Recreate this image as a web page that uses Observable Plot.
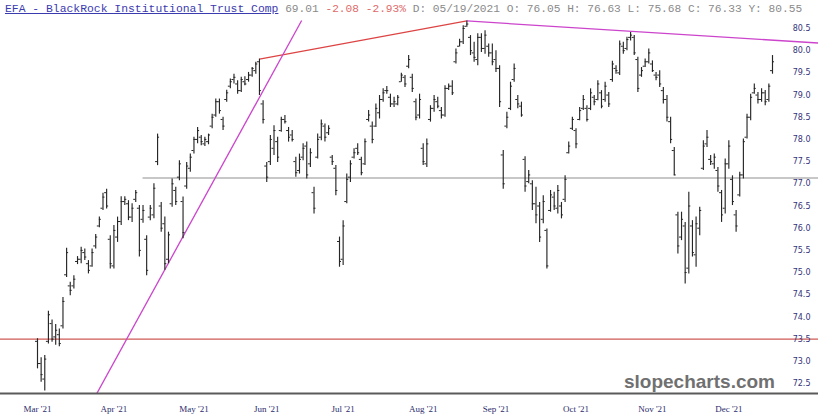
<!DOCTYPE html>
<html>
<head>
<meta charset="utf-8">
<script src="https://cdn.jsdelivr.net/npm/d3@7"></script>
<script src="https://cdn.jsdelivr.net/npm/@observablehq/plot@0.6"></script>
<style>
  html, body { margin: 0; padding: 0; background: #fff; }
  #wrap { position: relative; width: 818px; height: 419px; overflow: hidden; }
  #title { height: 18px; line-height: 18px; font-family: "Liberation Mono", "DejaVu Sans Mono", monospace; font-size: 11.2px; white-space: pre; padding-left: 5px; color: #8a8a8a; }
  #title .name { color: #3b3bb0; text-decoration: underline; font-size: 11.4px; }
  #title .chg { color: #e06a6a; }
  #wm { position: absolute; right: 43px; top: 371px; font-family: "Liberation Sans", Arial, sans-serif; font-weight: bold; font-size: 19px; color: #707070; }
</style>
</head>
<body>
<div id="wrap">
  <div id="title"><span class="name">EFA - BlackRock Institutional Trust Comp</span> 69.01 <span class="chg">-2.08 -2.93%</span> D: 05/19/2021 O: 76.05 H: 76.63 L: 75.68 C: 76.33 Y: 80.55</div>
  <div id="chart"></div>
  <div id="wm">slopecharts.com</div>
</div>
<script>
// ---- Data ----
const highs = [
73.51,73.08,73.13,74.13,73.93,73.83,73.73,74.44,75.55,74.78,74.93,75.36,75.57,75.53,75.27,75.53,75.86,76.25,76.79,76.88,
75.83,76.06,76.25,76.71,76.71,76.62,76.55,76.85,76.51,76.51,75.83,76.51,77.00,78.12,76.58,76.25,75.91,77.11,76.92,77.52,
76.70,77.48,77.67,78.05,78.27,78.09,78.05,78.12,78.57,78.91,78.91,78.50,79.11,79.36,79.47,79.32,79.40,79.41,79.51,79.62,
79.74,79.81,78.87,77.48,78.09,78.31,78.05,78.50,78.54,78.27,78.20,77.60,77.67,77.90,77.94,77.79,76.92,78.12,78.44,78.35,
78.31,77.64,77.41,75.80,76.17,77.22,77.52,77.79,77.90,77.60,78.01,78.65,78.39,78.80,78.99,79.14,79.19,79.02,78.95,78.99,
79.49,79.44,79.89,79.47,78.91,79.02,77.90,78.01,78.76,78.99,78.95,78.72,79.21,79.25,79.32,80.04,80.26,80.56,80.67,80.34,
80.19,80.38,80.38,80.45,80.15,80.15,80.00,79.66,77.75,78.61,79.29,79.70,78.99,78.84,77.61,77.30,77.07,76.92,76.58,76.73,
75.98,76.85,76.81,76.96,76.58,77.18,77.94,78.50,78.24,78.72,78.99,78.76,79.14,78.99,79.32,79.10,79.29,79.06,79.76,79.66,
80.22,80.19,80.30,80.41,80.34,79.85,79.62,79.81,80.04,79.77,79.51,79.55,79.17,78.99,78.50,77.82,76.36,76.36,76.13,76.81,
76.17,76.25,76.47,77.97,78.20,77.64,77.67,77.37,76.85,77.56,77.97,77.18,76.40,77.26,78.01,78.57,79.02,79.25,79.06,79.14,
79.10,79.25,79.89];
const lows = [
72.83,72.53,72.33,73.39,73.43,73.36,73.33,73.73,74.89,74.48,74.63,75.18,75.20,75.27,74.97,75.12,75.53,76.01,76.40,76.43,
75.08,75.08,75.68,76.06,76.51,76.17,76.13,76.58,75.35,76.11,74.93,76.17,76.21,77.41,75.91,75.05,75.20,76.47,76.51,77.07,
75.76,76.88,77.26,77.67,77.90,77.86,77.84,77.88,78.24,78.50,78.57,78.20,78.84,79.14,79.25,79.02,79.06,79.21,79.29,79.40,
79.47,78.99,78.35,77.03,77.41,77.64,77.48,78.16,78.35,77.94,77.94,77.15,77.22,77.52,77.11,77.37,76.32,77.56,77.97,77.94,
78.09,77.41,76.73,75.12,75.16,76.55,77.03,77.56,77.64,77.18,77.41,78.39,77.90,78.27,78.46,78.84,79.02,78.72,78.72,78.76,
79.29,79.17,79.59,79.06,78.42,78.46,77.41,77.37,78.39,78.61,78.69,78.46,78.50,79.10,78.99,79.70,80.08,80.14,80.53,79.89,
79.74,79.66,79.96,79.92,79.85,79.66,79.51,78.72,76.88,78.24,78.65,79.29,78.69,78.50,76.81,77.00,76.40,76.10,75.68,76.10,
75.08,76.36,76.40,76.32,76.21,76.58,77.67,78.20,77.79,78.42,78.65,78.39,78.65,78.76,78.87,78.69,78.84,78.72,79.29,79.47,
79.44,79.92,80.00,80.22,79.89,79.06,79.40,79.62,79.70,79.51,79.32,79.17,78.80,78.39,77.90,77.18,75.42,75.72,74.74,74.97,
75.35,75.12,75.83,77.30,77.82,77.41,77.33,76.81,76.13,76.32,77.33,76.51,75.91,76.70,77.11,78.01,78.42,79.02,78.80,78.84,
78.76,78.84,79.47];
const opens = [
73.45,72.95,72.60,73.45,73.85,73.55,73.60,73.80,74.95,74.70,74.70,75.25,75.30,75.45,75.20,75.15,75.60,76.05,76.45,76.80,
75.75,75.15,75.80,76.15,76.60,76.55,76.25,76.65,76.45,76.20,75.75,76.25,76.30,77.50,76.50,76.10,75.30,76.55,76.85,77.15,
76.60,76.95,77.35,77.75,78.00,78.05,77.90,77.95,78.30,78.55,78.85,78.45,78.90,79.20,79.35,79.25,79.10,79.30,79.35,79.45,
79.55,79.75,78.80,77.40,77.50,77.80,77.95,78.20,78.45,78.20,78.10,77.50,77.30,77.60,77.85,77.45,76.80,77.60,78.05,78.30,
78.15,77.60,77.35,75.70,75.30,76.60,77.15,77.60,77.80,77.55,77.45,78.45,78.30,78.30,78.60,78.90,79.10,78.95,78.80,78.80,
79.30,79.40,79.65,79.40,78.85,78.55,77.80,77.45,78.45,78.70,78.85,78.65,78.55,79.15,79.20,79.75,80.10,80.20,80.55,80.30,
79.95,79.80,80.30,80.05,80.10,79.95,79.80,79.60,77.65,78.30,78.70,79.35,78.90,78.75,77.55,77.05,77.00,76.55,76.50,76.20,
75.95,76.40,76.70,76.45,76.50,76.65,77.70,78.25,78.20,78.45,78.70,78.70,78.70,78.95,78.90,79.05,78.90,79.00,79.35,79.60,
79.50,80.10,80.05,80.30,80.30,79.80,79.45,79.65,79.75,79.70,79.45,79.45,79.10,78.90,78.40,77.75,76.30,75.80,76.05,75.10,
76.05,75.40,76.00,77.35,77.90,77.55,77.45,77.30,76.80,76.45,77.45,77.10,76.30,76.75,77.20,78.05,78.50,79.05,79.00,78.90,
79.05,78.90,79.55];
const closes = [
72.95,72.70,73.05,74.05,73.50,73.70,73.40,74.35,75.45,74.60,74.85,75.30,75.50,75.35,75.05,75.45,75.80,76.20,76.70,76.50,
75.20,75.95,76.15,76.60,76.65,76.25,76.45,76.80,75.50,76.40,75.05,76.45,76.90,78.05,76.00,75.20,75.85,77.00,76.60,77.45,
75.90,77.40,77.60,78.00,78.20,77.95,78.00,78.10,78.50,78.85,78.65,78.30,79.05,79.30,79.40,79.10,79.35,79.25,79.45,79.60,
79.70,79.10,78.45,77.15,78.00,78.20,77.60,78.45,78.40,78.05,78.00,77.25,77.55,77.80,77.20,77.70,76.45,78.00,78.35,78.05,
78.25,77.50,76.85,75.25,76.05,77.10,77.45,77.70,77.70,77.25,77.95,78.55,78.00,78.70,78.90,79.05,79.10,78.80,78.85,78.95,
79.45,79.25,79.80,79.15,78.50,78.90,77.50,77.90,78.70,78.90,78.75,78.55,79.15,79.20,79.05,79.95,80.20,80.50,80.60,80.00,
79.85,80.30,80.05,80.35,79.95,79.75,79.60,78.85,77.00,78.50,79.20,79.60,78.80,78.55,76.95,77.20,76.55,76.30,75.80,76.60,
75.15,76.75,76.50,76.85,76.30,77.10,77.85,78.45,77.90,78.65,78.90,78.45,79.05,78.85,79.25,78.75,79.20,78.80,79.70,79.55,
80.15,80.00,80.25,80.35,79.95,79.15,79.55,79.75,79.95,79.55,79.40,79.25,78.90,78.50,78.00,77.20,75.60,76.20,75.00,76.50,
75.45,76.10,76.40,77.85,78.05,77.50,77.60,76.95,76.30,77.45,77.85,76.60,76.05,77.20,77.95,78.50,78.95,79.15,78.90,79.05,
78.85,79.20,79.75];

const monthTicks = [0, 21, 43, 63, 84, 106, 126, 148, 169, 190];
const monthLabels = ["Mar '21","Apr '21","May '21","Jun '21","Jul '21","Aug '21","Sep '21","Oct '21","Nov '21","Dec '21"];
const priceTicks = [72.5,73.0,73.5,74.0,74.5,75.0,75.5,76.0,76.5,77.0,77.5,78.0,78.5,79.0,79.5,80.0,80.5];

// horizontal levels and trend lines (bar index, price)
const redLevel = [73.5];
const grayLevel = [{price: 77.13, from: 29, to: 215}];
const redTrend = [{i1: 61, p1: 79.81, i2: 118, p2: 80.67}];
const magentaTrends = [
  {i1: 16.0, p1: 72.23, i2: 72.6, p2: 80.68},
  {i1: 118, p1: 80.67, i2: 215, p2: 80.17}
];

// ---- Build table ----
const bars = highs.map((h, i) => ({i, open: opens[i], high: h, low: lows[i], close: closes[i]}));

const W = 818, H = 401;
const n = bars.length;
const step = 735 / (n - 1);
const xDomain = [-37 / step, (W - 37) / step];
const yDomain = [72.275, 80.725];

const chart = Plot.plot({
  width: W,
  height: H,
  marginLeft: 0,
  marginRight: 0,
  marginTop: 0,
  marginBottom: 26,
  style: {background: "transparent", overflow: "visible"},
  x: {type: "linear", domain: xDomain, axis: null},
  y: {domain: yDomain, axis: null},
  marks: [
    Plot.ruleY(redLevel, {stroke: "#cf5a55", strokeWidth: 1.2}),
    Plot.ruleY(grayLevel, {y: "price", x1: "from", x2: "to", stroke: "#b4b4b4", strokeWidth: 1.6}),
    Plot.link(redTrend, {x1: "i1", y1: "p1", x2: "i2", y2: "p2", stroke: "#dd4444", strokeWidth: 1.2}),
    Plot.link(magentaTrends, {x1: "i1", y1: "p1", x2: "i2", y2: "p2", stroke: "#cc44cc", strokeWidth: 1.3, clip: true}),
    Plot.ruleX(bars, {x: "i", y1: "low", y2: "high", stroke: "#262626", strokeWidth: 1.15}),
    Plot.ruleY(bars, {y: "open", x1: d => d.i - 0.55, x2: "i", stroke: "#262626", strokeWidth: 1}),
    Plot.ruleY(bars, {y: "close", x1: "i", x2: d => d.i + 0.55, stroke: "#262626", strokeWidth: 1}),
    Plot.ruleY([yDomain[0]], {stroke: "#5a5a5a", strokeWidth: 2}),
    Plot.text(priceTicks, {y: d => d, text: d => d.toFixed(1), frameAnchor: "right", dx: -8, textAnchor: "end",
      fill: "#34347a", fontSize: 8, fontFamily: "DejaVu Sans, sans-serif"}),
    Plot.axisX({ticks: monthTicks, tickSize: 0, tickPadding: 12,
      tickFormat: d => monthLabels[monthTicks.indexOf(d)],
      fontSize: 9, fontFamily: "Liberation Serif, serif", fill: "#2c2c6c", label: null})
  ]
});
document.getElementById("chart").appendChild(chart);
</script>
</body>
</html>
